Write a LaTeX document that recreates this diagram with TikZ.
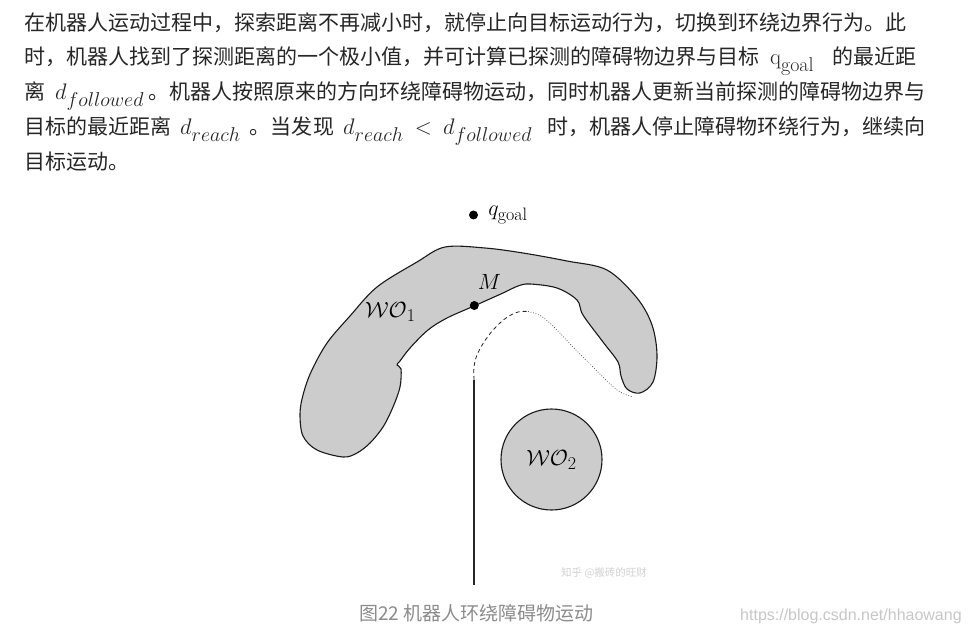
\RequirePackage{fix-cm}
\documentclass[tikz,border=0pt]{standalone}
\usepackage{fontspec}
\newfontfamily\cjk{Noto Sans CJK SC}
\newfontfamily\webfont{Liberation Sans}
\DeclareMathSizes{21}{22.5}{20}{15}
\DeclareMathSizes{22}{22}{18}{13}
% stretchable glue between ideographs, for the justified lines
\newXeTeXintercharclass\hanch
\makeatletter
\count@="4E00
\loop\XeTeXcharclass\count@=\hanch\ifnum\count@<"9FFF\advance\count@\@ne\repeat
\makeatother
\XeTeXcharclass"FF0C=\hanch
\XeTeXcharclass"3002=\hanch
\XeTeXinterchartoks\hanch\hanch={\hskip0pt plus 1pt\relax}
\XeTeXinterchartokenstate=1
\usetikzlibrary{positioning}
\tikzset{
  txt/.style={anchor=base west, inner sep=0pt, text=black!85, font=\fontsize{21}{25}\selectfont\cjk},
  lbl/.style={inner sep=0pt, font=\fontsize{22}{26}\selectfont},
  obst/.style={draw=black!90, fill=gray!40, line width=1.1pt},
  spot/.style={circle, fill=black, inner sep=0pt, minimum size=9pt},
  track/.style={draw=black!85, line width=1.1pt},
}

\begin{document}
\begin{tikzpicture}[x=1pt,y=-1pt]
\useasboundingbox (0,0) rectangle (973,636);
\fill[white] (0,0) rectangle (973,636);
% paragraph
\node[txt] (l1) at (24,31) {在机器人运动过程中，探索距离不再减小时，就停止向目标运动行为，切换到环绕边界行为。此};
\node[txt] (l2a) at (24,65) {\hbox to 735pt{时，机器人找到了探测距离的一个极小值，并可计算已探测的障碍物边界与目标}};
\node[txt] (l2b) at (770,65) {$\mathrm{q}_{\mathrm{goal}}$};
\node[txt] (l2c) at (832,65) {的最近距};
\node[txt] (l3a) at (24,100) {离};
\node[txt] (l3b) at (55,100) {$d_{followed}$};
\node[txt] (l3c) at (148.5,100) {\hbox to 777pt{。机器人按照原来的方向环绕障碍物运动，同时机器人更新当前探测的障碍物边界与}};
\node[txt] (l4a) at (24,135) {目标的最近距离};
\node[txt] (l4b) at (180,135) {$d_{reach}$};
\node[txt] (l4c) at (249,135) {\hbox to 85pt{。当发现}};
\node[txt] (l4d) at (343,135) {$d_{reach}\mskip4mu<\mskip4mu d_{followed}$};
\node[txt] (l4e) at (547,135) {\hbox to 377pt{时，机器人停止障碍物环绕行为，继续向}};
\node[txt] (l5) at (24,170) {目标运动。};
% obstacle 1
\draw[obst] plot[smooth cycle, tension=0.55] coordinates {
  (343,457) (317,450) (303,436) (300,414) (303,395) (311,372) (327,343)
  (350,316) (377,287) (417,262) (445,247) (485,248) (523,253) (567,261)
  (607,270) (637,298) (652,325) (657,355) (653,382) (640,393) (627,389)
  (621,376) (618,362) (603,342) (583,315) (577,300) (557,288) (530,284)
  (518,286) (503,293) (474,306) (447,318) (428,330) (410,348) (400,361)
  (397,365) (401,369) (400,387) (393,407) (383,427) (370,443) (357,453)};
\node[lbl, anchor=base west] (wo1) at (365,317) {$\mathcal{WO}_1$};
% obstacle 2
\node[obst, circle, minimum size=101pt, lbl] (wo2) at (551.5,459.5) {$\mathcal{WO}_2$};
% robot path
\coordinate (base) at (474,585);
\coordinate (hit) at (474,380);
\draw[track] (base) -- (hit);
\draw[black!85, line width=0.8pt, dash pattern=on 4pt off 3pt] plot[smooth, tension=0.6] coordinates {
  (hit) (474,367) (477,355) (484,342) (494,329) (506,318) (518,312) (528,311.5)};
\draw[black!70, line width=0.7pt, dash pattern=on 0.8pt off 1.8pt] plot[smooth, tension=0.6] coordinates {
  (528,311.5) (541,316) (556,329) (572,346) (590,364) (607,381) (620,392) (633,397)};
% points
\node[spot] (goaldot) at (473.5,215) {};
\node[spot] (mdot) at (474.3,305.5) {};
\node[lbl, right=10pt of goaldot] (goal) {$q_{\mathrm{goal}}$};
\node[lbl, above right=12pt and 0pt of mdot] (mlab) {$M$};
% caption and marks
\node[anchor=base west, inner sep=0pt, text=black!18, font=\fontsize{10.5}{12}\selectfont\cjk] (mark) at (561,576) {知乎 @搬砖的旺财};
\node[anchor=base west, inner sep=0pt, text=black!45, font=\fontsize{19}{23}\selectfont\cjk] (cap) at (359,620) {图22 机器人环绕障碍物运动};
\node[anchor=base west, inner sep=0pt, text=black!22, font=\fontsize{16}{19}\selectfont\webfont] (url) at (740,620) {https://blog.csdn.net/hhaowang};
\end{tikzpicture}
\end{document}
